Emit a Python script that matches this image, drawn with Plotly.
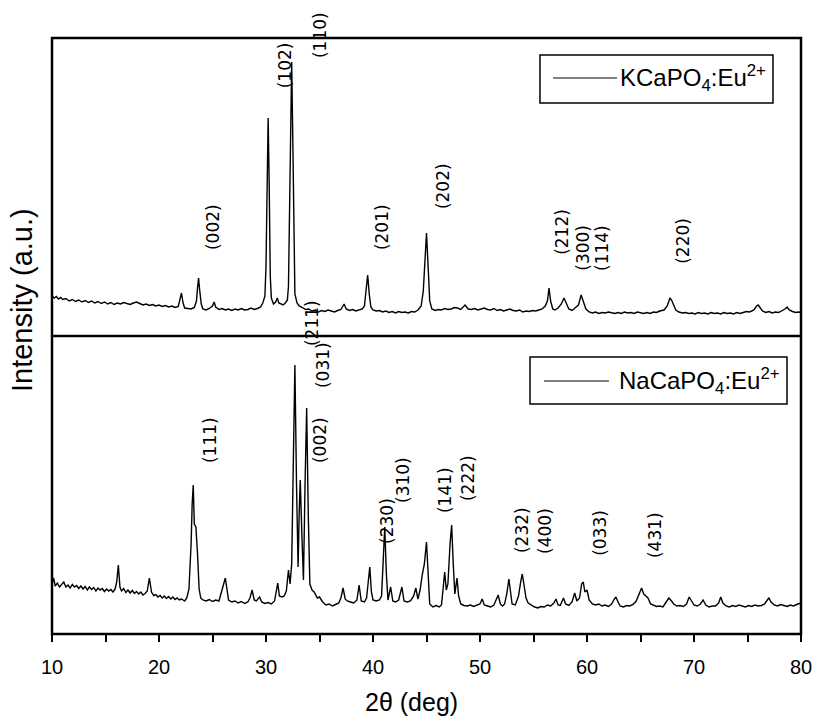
import plotly.graph_objects as go

# ---------------- data ----------------
# KCaPO4:Eu2+ (top panel) : 2theta (deg) and intensity (a.u.)
k_angle = [10.0,10.2,10.4,10.6,10.8,11.0,11.3,11.6,11.9,12.2,12.5,12.8,13.1,13.4,13.7,14.0,14.3,14.6,14.9,15.2,
           15.5,15.8,16.1,16.4,16.7,17.0,17.3,17.6,17.9,18.2,18.5,18.8,19.1,19.4,19.7,20.0,20.3,20.6,20.9,21.2,
           21.5,21.8,22.0,22.1,22.25,22.4,22.7,23.0,23.3,23.5,23.6,23.7,23.8,23.95,24.1,24.4,24.7,25.0,25.15,25.3,
           25.6,25.9,26.2,26.5,26.8,27.1,27.4,27.7,28.0,28.3,28.6,28.9,29.2,29.5,29.7,29.9,30.0,30.1,30.2,30.3,
           30.4,30.5,30.7,30.9,31.05,31.2,31.4,31.6,31.8,32.0,32.1,32.2,32.3,32.4,32.5,32.6,32.7,32.9,33.1,33.4,
           33.7,34.0,34.3,34.6,34.9,35.2,35.5,35.8,36.1,36.4,36.7,37.0,37.3,37.5,37.8,38.1,38.4,38.7,39.0,39.2,
           39.35,39.5,39.65,39.8,40.0,40.3,40.6,40.9,41.2,41.5,41.8,42.1,42.4,42.7,43.0,43.3,43.6,43.9,44.2,44.5,
           44.7,44.85,45.0,45.15,45.3,45.5,45.8,46.1,46.4,46.7,47.0,47.3,47.6,47.9,48.2,48.6,48.9,49.2,49.5,49.8,
           50.1,50.4,50.7,51.0,51.3,51.6,51.9,52.2,52.5,52.8,53.1,53.4,53.7,54.0,54.3,54.6,54.9,55.2,55.5,55.8,
           56.1,56.3,56.45,56.6,56.8,57.0,57.3,57.6,57.85,58.05,58.3,58.6,58.9,59.2,59.45,59.7,59.9,60.2,60.5,60.8,
           61.1,61.4,61.7,62.0,62.3,62.6,62.9,63.2,63.5,63.8,64.1,64.4,64.7,65.0,65.3,65.6,65.9,66.2,66.5,66.8,
           67.2,67.5,67.75,67.9,68.1,68.3,68.6,68.9,69.2,69.5,69.8,70.1,70.4,70.7,71.0,71.3,71.6,71.9,72.2,72.5,
           72.8,73.1,73.4,73.7,74.0,74.3,74.6,74.9,75.2,75.6,75.85,76.0,76.2,76.4,76.7,77.0,77.3,77.6,77.9,78.2,
           78.5,78.7,78.9,79.2,79.5,79.8,80.0]
k_int = [400,380,395,370,385,365,375,350,365,345,360,340,355,335,350,330,345,325,340,320,
         335,315,330,320,335,325,315,330,340,325,310,320,305,315,300,310,295,305,290,300,
         285,295,380,430,330,280,275,270,285,350,480,580,460,320,270,260,275,300,340,290,
         265,275,260,270,255,270,260,275,260,265,280,265,275,290,330,400,700,1500,2180,1500,
         600,380,320,340,380,330,320,310,330,360,500,1200,2200,2740,2000,900,420,330,300,285,
         265,270,250,260,240,255,245,260,250,240,255,265,320,270,255,265,250,260,270,300,
         450,610,420,290,260,250,255,240,250,235,245,230,245,235,240,230,245,240,260,300,
         450,800,1030,700,350,270,255,265,260,275,265,270,285,280,265,310,270,265,275,260,
         270,280,265,260,275,255,265,250,260,270,255,250,260,240,250,245,255,250,260,270,
         300,350,480,350,270,260,280,320,380,330,270,255,280,310,410,330,270,240,230,240,
         225,235,230,240,230,225,235,225,240,230,235,225,240,230,225,235,225,240,235,250,
         260,300,380,360,310,260,240,230,235,225,230,220,235,225,230,220,235,225,230,220,
         235,225,230,220,235,225,235,245,240,260,300,310,280,250,235,245,230,240,235,250,
         270,290,260,245,235,240,235]

# NaCaPO4:Eu2+ (bottom panel)
n_angle = [10.0,10.15,10.3,10.5,10.7,10.9,11.1,11.3,11.5,11.7,11.9,12.1,12.3,12.5,12.7,12.9,13.1,13.3,13.5,13.7,
           13.9,14.1,14.3,14.5,14.7,14.9,15.1,15.3,15.5,15.7,15.9,16.05,16.2,16.35,16.5,16.7,16.9,17.1,17.3,17.5,
           17.7,17.9,18.1,18.3,18.5,18.7,18.9,19.1,19.3,19.5,19.7,19.9,20.1,20.3,20.5,20.7,20.9,21.1,21.3,21.5,
           21.7,21.9,22.1,22.4,22.6,22.8,23.0,23.1,23.2,23.3,23.45,23.6,23.75,23.9,24.1,24.4,24.7,25.0,25.3,25.6,
           25.8,26.0,26.2,26.35,26.5,26.8,27.1,27.4,27.7,28.0,28.3,28.5,28.7,28.9,29.1,29.4,29.6,29.9,30.2,30.5,
           30.8,31.0,31.1,31.25,31.5,31.7,31.9,32.1,32.25,32.4,32.55,32.7,32.85,33.0,33.1,33.2,33.35,33.5,33.65,33.8,
           33.95,34.1,34.3,34.5,34.8,35.0,35.3,35.6,35.9,36.2,36.5,36.8,37.0,37.2,37.4,37.6,37.9,38.2,38.5,38.7,
           38.9,39.2,39.4,39.55,39.7,39.85,40.0,40.3,40.6,40.8,40.95,41.1,41.25,41.4,41.65,41.85,42.1,42.4,42.7,42.9,
           43.2,43.5,43.8,44.0,44.2,44.4,44.6,44.8,45.0,45.15,45.3,45.6,45.9,46.2,46.4,46.55,46.7,46.85,47.0,47.2,
           47.35,47.5,47.65,47.85,48.0,48.2,48.5,48.8,49.1,49.4,49.7,50.0,50.2,50.4,50.7,51.0,51.3,51.5,51.7,51.9,
           52.1,52.3,52.5,52.7,52.85,53.0,53.3,53.6,53.8,53.95,54.1,54.3,54.5,54.8,55.1,55.4,55.7,56.0,56.3,56.6,
           56.9,57.1,57.3,57.5,57.8,58.0,58.3,58.6,58.85,59.05,59.3,59.5,59.65,59.8,60.0,60.2,60.5,60.8,61.1,61.4,
           61.7,62.0,62.3,62.5,62.7,62.9,63.1,63.4,63.7,64.0,64.3,64.6,64.9,65.1,65.3,65.5,65.7,65.95,66.2,66.5,
           66.8,67.1,67.4,67.65,67.9,68.1,68.4,68.7,69.0,69.3,69.55,69.8,70.0,70.3,70.6,70.85,71.1,71.4,71.7,72.0,
           72.3,72.5,72.7,73.0,73.3,73.6,73.9,74.2,74.5,74.8,75.1,75.4,75.7,76.0,76.3,76.6,76.85,77.0,77.2,77.5,
           77.8,78.1,78.4,78.7,79.0,79.3,79.6,79.8,80.0]
n_int = [500,560,480,510,470,500,520,470,490,460,495,470,485,455,480,450,475,440,470,445,
         465,430,460,440,455,425,450,430,445,420,450,520,690,470,430,455,415,440,410,435,
         405,425,400,420,390,405,430,560,420,385,395,370,385,360,380,355,375,350,370,345,
         360,340,350,330,360,450,900,1300,1490,1100,1070,800,450,360,340,330,345,325,340,330,
         400,480,560,450,340,320,330,310,325,305,320,360,440,340,330,370,320,305,315,300,
         330,450,510,380,370,380,430,640,500,700,1800,2690,1500,670,1200,1540,1000,540,1500,2260,
         1200,500,440,420,360,370,320,290,300,280,295,310,360,460,350,330,320,310,340,490,
         330,320,360,520,670,420,340,330,340,380,700,1070,600,340,470,330,320,340,470,330,
         320,330,380,460,350,440,590,700,920,600,300,270,285,270,290,450,620,440,500,900,
         1090,700,400,560,380,300,285,280,290,275,285,300,350,290,280,270,290,340,390,300,
         280,300,400,550,420,300,290,380,520,600,500,360,310,290,270,260,275,270,290,280,
         310,350,290,285,360,300,285,320,410,330,360,500,520,420,440,340,300,290,300,280,
         290,275,300,340,370,320,280,270,285,280,295,330,420,460,400,380,360,300,290,275,
         280,270,320,360,330,300,280,285,275,300,370,320,290,280,300,340,290,270,280,280,
         310,370,310,280,270,285,275,290,280,270,285,275,290,280,285,300,340,360,320,290,
         280,295,285,275,290,280,295,300,310]

# Miller-index labels (angle, intensity of label centre)
k_hkl = ["(002)", "(102)", "(201)", "(202)", "(212)", "(300)", "(114)", "(220)", "(211)"]
k_hkl_angle = [25.05, 31.8, 40.85, 46.55, 57.65, 59.6, 61.4, 68.95, 34.3]
k_hkl_int = [1090, 2710, 1090, 1500, 1040, 880, 880, 950, 130]
# label that sits above the frame (position given in angle only)
k_hkl_top = "(110)"
k_hkl_top_angle = 35.05

n_hkl = ["(111)", "(031)", "(002)", "(230)", "(310)", "(141)", "(222)", "(232)", "(400)", "(033)", "(431)"]
n_hkl_angle = [24.77, 35.33, 35.05, 41.3, 42.8, 46.73, 48.88, 53.93, 56.07, 61.2, 66.36]
n_hkl_int = [1940, 2690, 1940, 1130, 1540, 1440, 1560, 1040, 1030, 1010, 990]

x_ticks = [10, 20, 30, 40, 50, 60, 70, 80]
series_names = ["KCaPO<sub>4</sub>:Eu<sup>2+</sup>", "NaCaPO<sub>4</sub>:Eu<sup>2+</sup>"]

# ---------------- figure ----------------
FONT = "Liberation Sans"
LBL_FONT = dict(family="DejaVu Sans", size=17, color="black")

fig = go.Figure()
fig.add_trace(go.Scatter(x=n_angle, y=n_int, mode="lines", name=series_names[1],
                         line=dict(color="black", width=1.4), xaxis="x", yaxis="y", showlegend=False))
fig.add_trace(go.Scatter(x=k_angle, y=k_int, mode="lines", name=series_names[0],
                         line=dict(color="black", width=1.4), xaxis="x", yaxis="y2", showlegend=False))

annotations = []
for t, a, v in zip(k_hkl, k_hkl_angle, k_hkl_int):
    annotations.append(dict(x=a, y=v, xref="x", yref="y2", text=t, showarrow=False, textangle=-90,
                            xanchor="center", yanchor="middle", font=LBL_FONT))
annotations.append(dict(x=k_hkl_top_angle, y=1.005, xref="x", yref="paper", text=k_hkl_top,
                        showarrow=False, textangle=-90, xanchor="center", yanchor="middle",
                        font=LBL_FONT))
for t, a, v in zip(n_hkl, n_hkl_angle, n_hkl_int):
    annotations.append(dict(x=a, y=v, xref="x", yref="y", text=t, showarrow=False, textangle=-90,
                            xanchor="center", yanchor="middle", font=LBL_FONT))

# legend texts
annotations.append(dict(x=0.7557, y=0.9329, xref="paper", yref="paper", text=series_names[0],
                        showarrow=False, xanchor="left", yanchor="middle",
                        font=dict(family=FONT, size=24, color="black")))
annotations.append(dict(x=0.7543, y=0.4245, xref="paper", yref="paper", text=series_names[1],
                        showarrow=False, xanchor="left", yanchor="middle",
                        font=dict(family=FONT, size=24, color="black")))
# axis titles
annotations.append(dict(x=0.4806, y=-0.114, xref="paper", yref="paper", text="2θ (deg)",
                        showarrow=False, xanchor="center", yanchor="middle",
                        font=dict(family=FONT, size=25, color="black")))
annotations.append(dict(x=-0.040, y=0.5604, xref="paper", yref="paper", text="Intensity (a.u.)",
                        showarrow=False, xanchor="center", yanchor="middle", textangle=-90,
                        font=dict(family=FONT, size=29, color="black")))

shapes = [
    dict(type="rect", xref="paper", yref="paper", x0=0, x1=1, y0=0, y1=1,
         line=dict(color="black", width=2.5)),
    dict(type="line", xref="paper", yref="paper", x0=0, x1=1, y0=0.5, y1=0.5,
         line=dict(color="black", width=2.5)),
    # legend boxes and sample lines
    dict(type="rect", xref="paper", yref="paper", x0=0.6515, x1=0.9626, y0=0.8909, y1=0.9715,
         line=dict(color="black", width=1.5)),
    dict(type="line", xref="paper", yref="paper", x0=0.6689, x1=0.7543, y0=0.9329, y1=0.9329,
         line=dict(color="black", width=1.2)),
    dict(type="rect", xref="paper", yref="paper", x0=0.6382, x1=0.9813, y0=0.3859, y1=0.4648,
         line=dict(color="black", width=1.5)),
    dict(type="line", xref="paper", yref="paper", x0=0.6569, x1=0.7437, y0=0.4245, y1=0.4245,
         line=dict(color="black", width=1.2)),
]

fig.update_layout(
    width=817, height=718,
    margin=dict(l=52, r=16, t=38, b=84, autoexpand=False),
    paper_bgcolor="white", plot_bgcolor="white",
    xaxis=dict(range=[10, 80], tickvals=x_ticks, ticks="outside", ticklen=7, tickwidth=2,
               tickcolor="black", showgrid=False, zeroline=False, showline=False, automargin=False,
               minor=dict(dtick=5, tick0=10, ticks="outside", ticklen=7, tickwidth=2, tickcolor="black"),
               tickfont=dict(family=FONT, size=20, color="black"), anchor="y",
               ticklabelstandoff=8),
    yaxis=dict(domain=[0, 0.5], range=[0, 2980], showticklabels=False, ticks="", automargin=False,
               showgrid=False, zeroline=False, showline=False),
    yaxis2=dict(domain=[0.5, 1], range=[0, 2980], showticklabels=False, ticks="", automargin=False,
                showgrid=False, zeroline=False, showline=False, anchor="x"),
    annotations=annotations,
    shapes=shapes,
)

fig.write_html("out.html", config={"displayModeBar": False},
               post_script="document.body.style.margin='0';document.body.style.overflow='hidden';")
